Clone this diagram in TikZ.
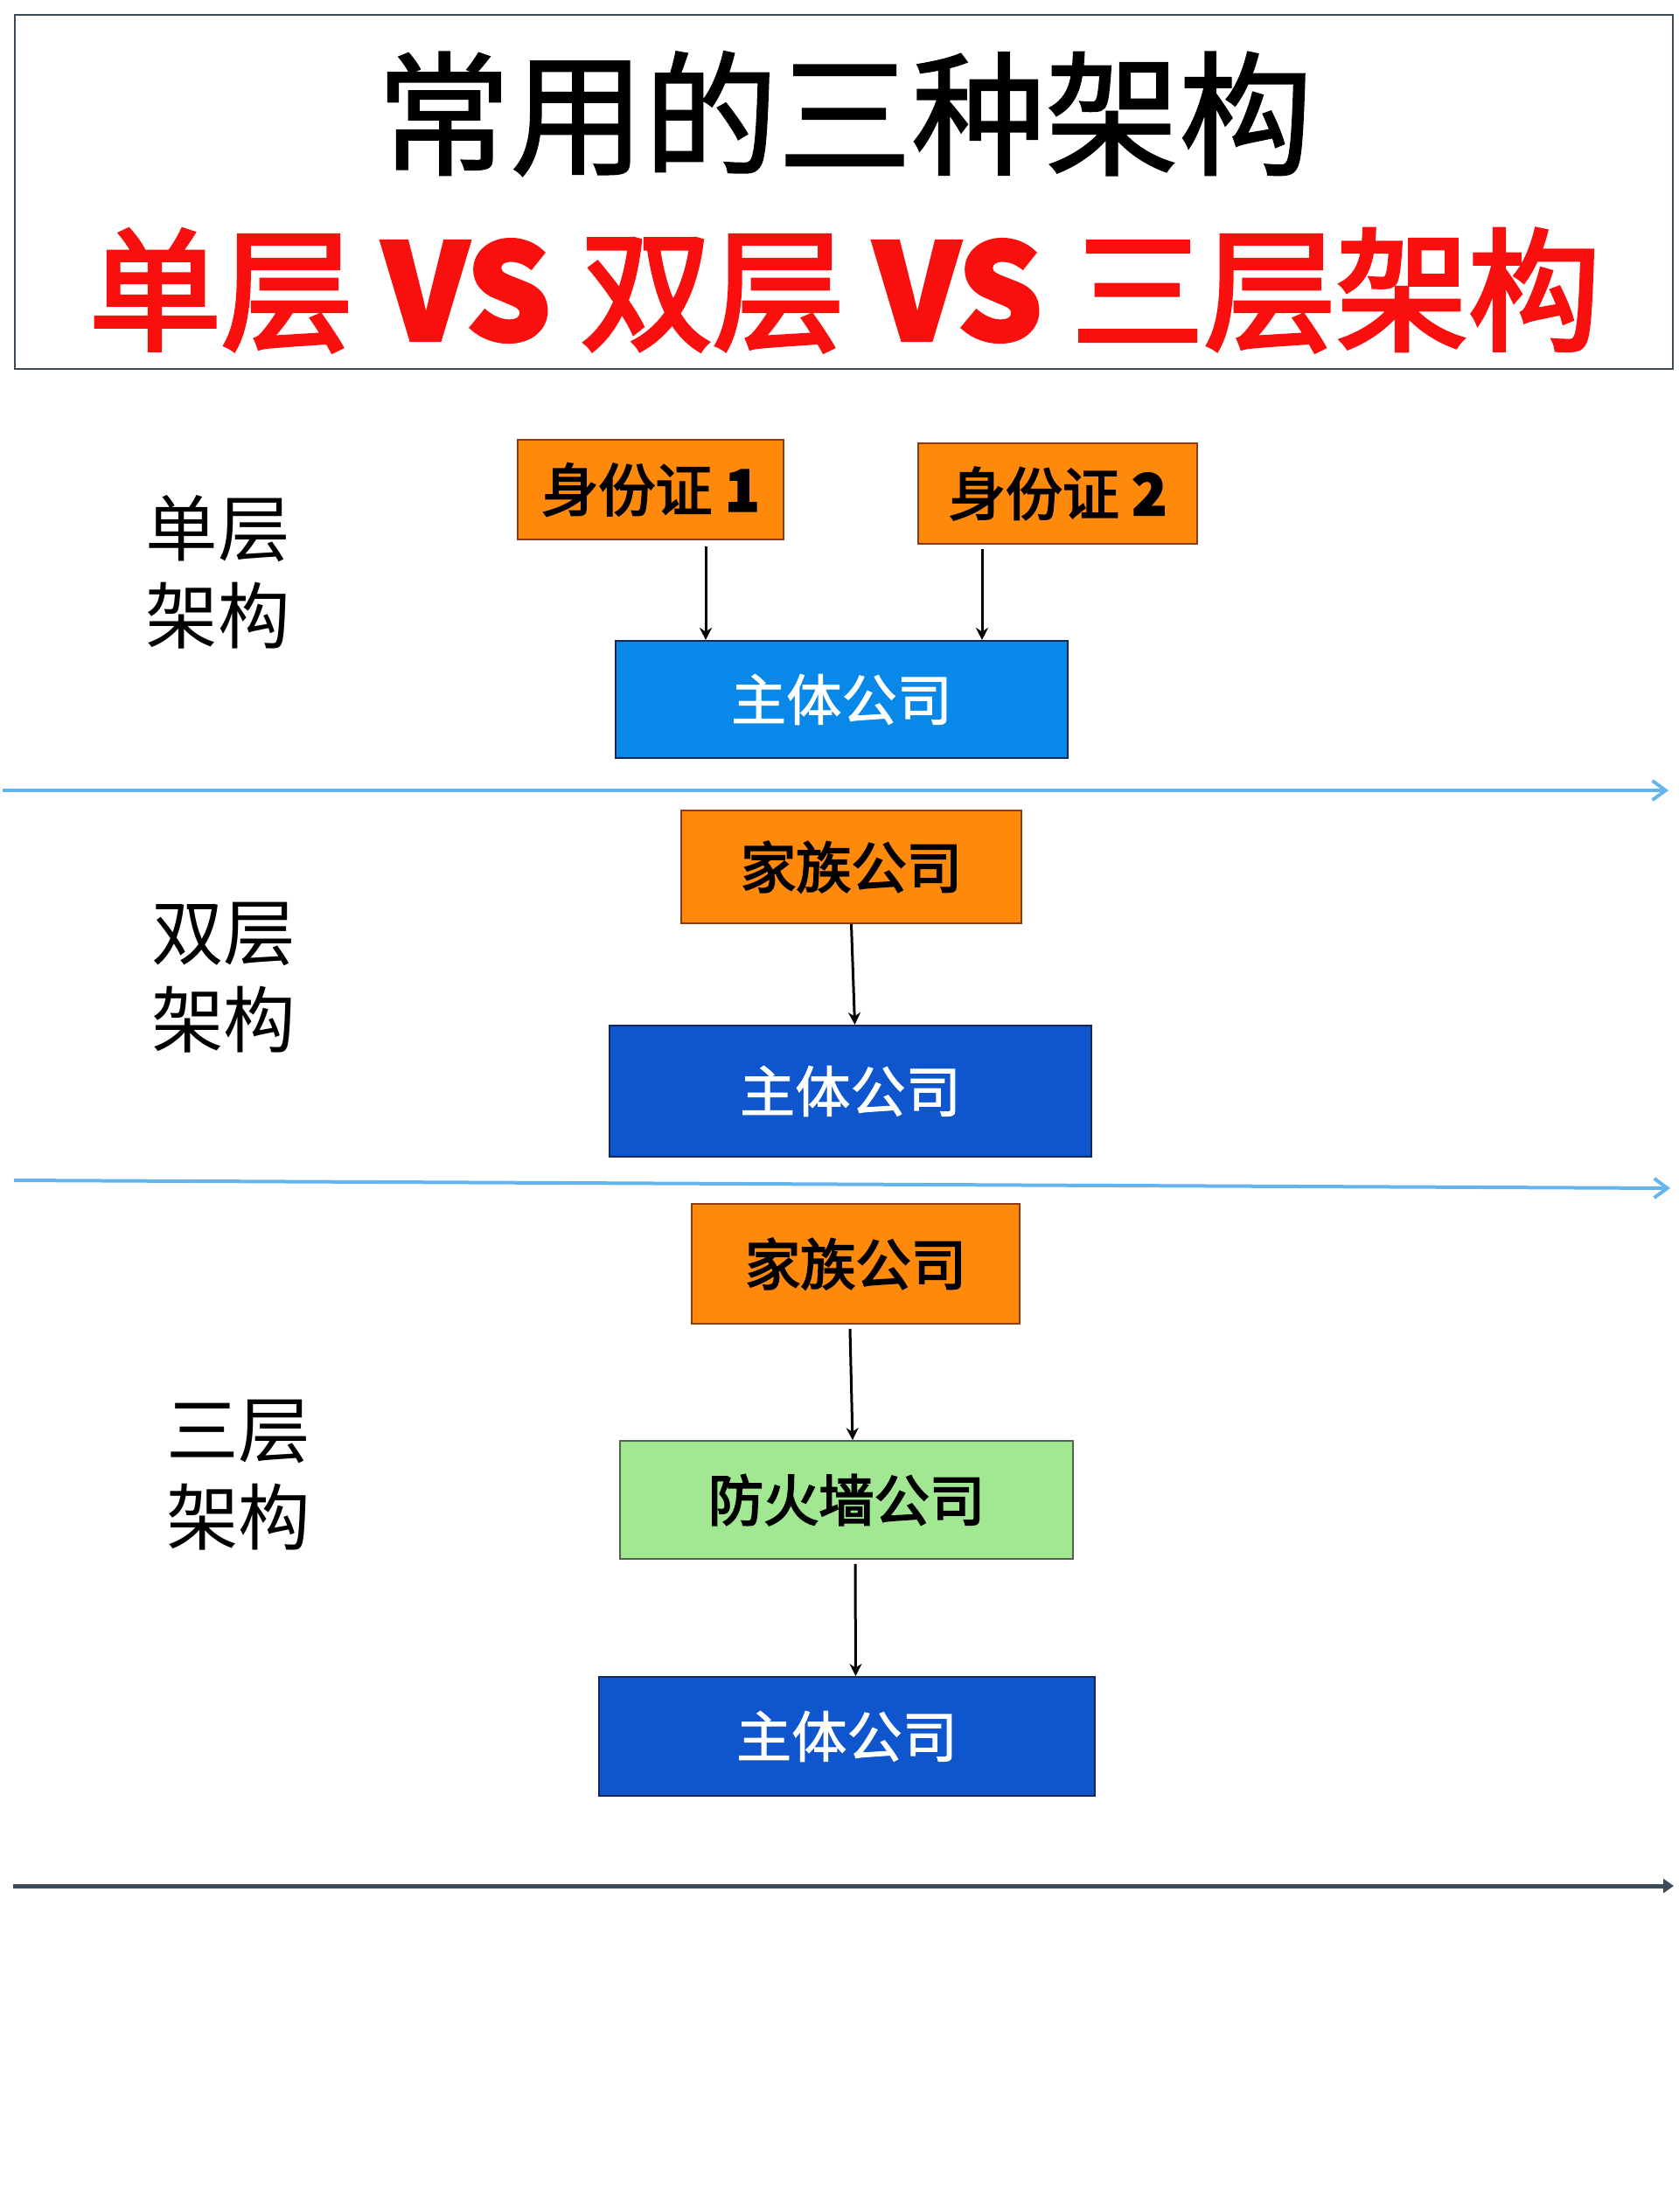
\documentclass[tikz,border=0pt]{standalone}
\usepackage{fontspec}
\setmainfont{Noto Sans CJK SC}
\newfontfamily\cjkmid{Noto Sans CJK SC}[FakeBold=3]
\newfontfamily\cjksemi{Noto Sans CJK SC}[FakeBold=1.5]
\usetikzlibrary{arrows.meta}
\definecolor{idorange}{RGB}{255,137,10}
\definecolor{orangeline}{RGB}{140,60,20}
\definecolor{mainblue}{RGB}{8,136,232}
\definecolor{deepblue}{RGB}{15,85,205}
\definecolor{blueline}{RGB}{20,40,90}
\definecolor{wallgreen}{RGB}{162,232,146}
\definecolor{greenline}{RGB}{80,100,80}
\definecolor{splitblue}{RGB}{100,180,240}
\definecolor{splitdark}{RGB}{60,75,90}
\definecolor{titlered}{RGB}{250,15,15}
\begin{document}
\begin{tikzpicture}[
	orangebox/.style={draw=orangeline, fill=idorange, line width=0.5pt, inner sep=0pt, font=\fontsize{18.5pt}{22pt}\cjkmid},
	mainbox/.style={draw=blueline, fill=#1, line width=0.6pt, inner sep=0pt, text=white, font=\fontsize{18pt}{22pt}\cjksemi},
	wallbox/.style={draw=greenline, fill=wallgreen, line width=0.5pt, inner sep=0pt, font=\fontsize{18pt}{22pt}\cjkmid},
	layer/.style={align=left, inner sep=0pt, font=\fontsize{23.5pt}{28.45pt}\selectfont},
	link/.style={-{Stealth[length=1.4mm,width=1.4mm]}, line width=0.3mm},
]
	\useasboundingbox (0,0) rectangle (19.2,-25.3);
	
	\node[draw=splitdark, line width=0.6pt, minimum width=18.96cm, minimum height=4.05cm, inner sep=0pt] (frame) at (9.65,-2.195) {};
	\node[font=\fontsize{43.5pt}{50pt}\cjksemi] (title) at (9.66,-1.30) {常用的三种架构};
	\node[font=\fontsize{43pt}{50pt}\cjkmid, text=titlered] (subtitle) at (9.66,-3.32) {单层 {\bfseries VS} 双层 {\bfseries VS} 三层架构};
	
	\node[layer] (single) at (2.49,-6.54) {单层\\架构};
	\node[orangebox, minimum width=3.04cm, minimum height=1.14cm] (id1) at (7.44,-5.60) {身份证 {\bfseries 1}};
	\node[orangebox, minimum width=3.19cm, minimum height=1.15cm] (id2) at (12.095,-5.645) {身份证 {\bfseries 2}};
	\node[mainbox=mainblue, minimum width=5.17cm, minimum height=1.34cm] (main1) at (9.625,-8.00) {主体公司};
	\coordinate (t1) at ([xshift=6.3mm,yshift=-0.7mm]id1.south);
	\coordinate (t2) at ([xshift=-8.65mm,yshift=-0.5mm]id2.south);
	\draw[link] (t1) -- (t1 |- main1.north);
	\draw[link] (t2) -- (t2 |- main1.north);
	
	\coordinate (cut1a) at (0.03,-9.04);
	\coordinate (cut1b) at (19.08,-9.04);
	\draw[splitblue, line width=0.4mm, -{Straight Barb[length=1.5mm,width=2.2mm]}] (cut1a) -- (cut1b);
	
	\node[layer] (double) at (2.56,-11.18) {双层\\架构};
	\node[orangebox, minimum width=3.89cm, minimum height=1.29cm, font=\fontsize{18pt}{22pt}\cjkmid] (fam2) at (9.735,-9.915) {家族公司};
	\node[mainbox=deepblue, minimum width=5.51cm, minimum height=1.50cm] (main2) at (9.725,-12.48) {主体公司};
	\draw[link] (fam2.south) -- ([xshift=0.5mm]main2.north);
	
	\coordinate (cut2a) at (0.16,-13.50);
	\coordinate (cut2b) at (19.10,-13.59);
	\draw[splitblue, line width=0.4mm, -{Straight Barb[length=1.5mm,width=2.2mm]}] (cut2a) -- (cut2b);
	
	\node[layer] (triple) at (2.73,-16.87) {三层\\架构};
	\node[orangebox, minimum width=3.75cm, minimum height=1.37cm, font=\fontsize{18pt}{22pt}\cjkmid] (fam3) at (9.785,-14.455) {家族公司};
	\node[wallbox, minimum width=5.18cm, minimum height=1.35cm] (wall3) at (9.68,-17.155) {防火墙公司};
	\node[mainbox=deepblue, minimum width=5.67cm, minimum height=1.36cm] (main3) at (9.685,-19.86) {主体公司};
	\draw[link] ([xshift=-0.65mm,yshift=-0.5mm]fam3.south) -- ([xshift=0.7mm]wall3.north);
	\draw[link] ([xshift=1mm,yshift=-0.5mm]wall3.south) -- ([xshift=1mm]main3.north);
	
	\coordinate (cut3a) at (0.15,-21.57);
	\coordinate (cut3b) at (19.14,-21.57);
	\draw[splitdark, line width=0.5mm, -{Triangle[length=1.2mm,width=1.6mm]}] (cut3a) -- (cut3b);
\end{tikzpicture}
\end{document}
